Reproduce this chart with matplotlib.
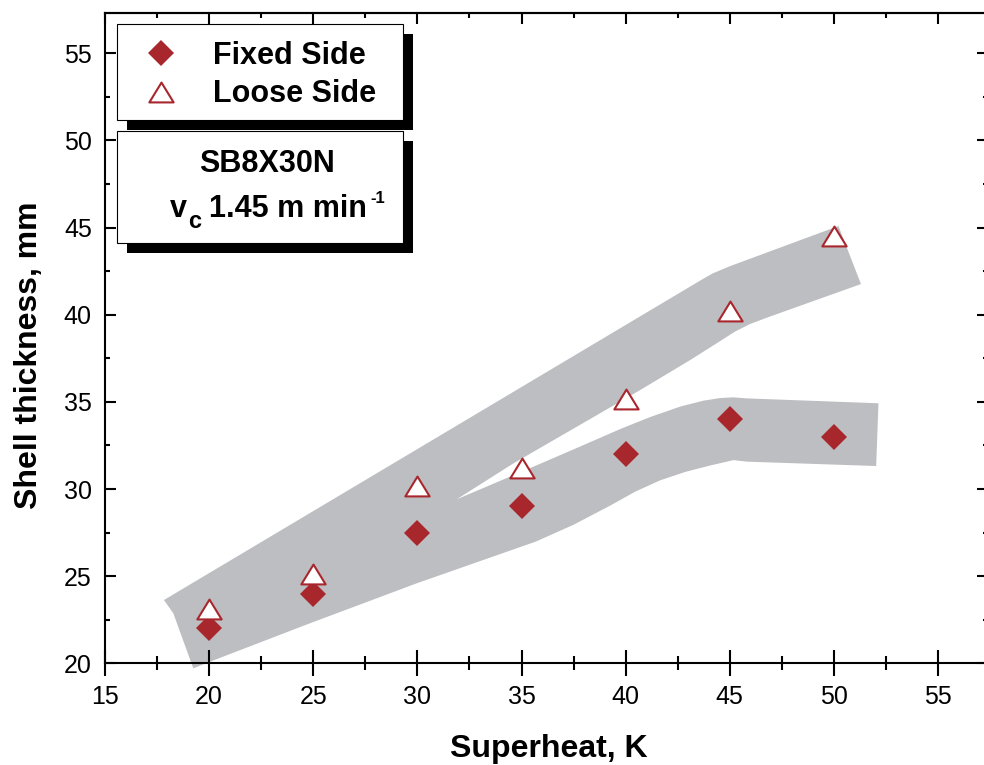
import matplotlib
matplotlib.use('Agg')
import matplotlib.pyplot as plt
from matplotlib.patches import Rectangle
from matplotlib.ticker import MultipleLocator
from matplotlib.path import Path

plt.rcParams['font.family'] = ['Liberation Sans', 'DejaVu Sans']

# ---- data ----
superheat = [20, 25, 30, 35, 40, 45, 50]
fixed_side = [22.0, 24.0, 27.5, 29.0, 32.0, 34.0, 33.0]
loose_side = [23.1, 25.1, 30.2, 31.2, 35.15, 40.2, 44.5]

# gray scatter band outline (superheat, thickness)
band_x = [17.83, 43.58, 44.16, 45.02, 50.22, 51.30, 46.94, 45.98, 45.26,
          44.54, 43.10, 40.70, 34.61, 31.89, 35.57, 37.82, 39.74, 41.18,
          42.62, 43.74, 44.54, 45.18, 45.82, 52.14, 52.03, 45.82, 45.18,
          44.06, 42.86, 41.66, 40.46, 39.26, 37.50, 35.70, 29.97,
          24.85, 20.04, 19.24, 18.28]
band_y = [23.63, 41.96, 42.36, 42.79, 45.09, 41.76, 39.90, 39.47, 39.04,
          38.49, 37.40, 35.68, 31.47, 29.41, 31.28, 32.44, 33.44, 34.13,
          34.73, 35.07, 35.22, 35.26, 35.20, 34.92, 31.32, 31.57, 31.66,
          31.35, 30.98, 30.50, 29.85, 29.05, 27.95, 26.99, 24.59,
          22.30, 20.09, 19.71, 22.87]

x_label = 'Superheat, K'
y_label = 'Shell thickness, mm'
series_labels = ['Fixed Side', 'Loose Side']
steel_grade = 'SB8X30N'
speed_symbol = 'v'
speed_sub = 'c'
speed_value = '1.45 m min'
speed_sup = '-1'

red = '#a8272d'
band_color = '#bdbec1'

fig = plt.figure(figsize=(9.84, 7.65), dpi=100)
ax = fig.add_axes([105 / 984, (765 - 663.3) / 765, 883 / 984, 650.6 / 765])

ax.fill(band_x, band_y, color=band_color, lw=0, clip_on=False, zorder=1)

tri = Path([(0, 0.49), (-0.6, -0.49), (0.6, -0.49), (0, 0.49)], closed=True)

ax.plot(superheat, fixed_side, ls='none', marker='D', ms=13.7, color=red,
        mew=0, label=series_labels[0], zorder=3, clip_on=False)
ax.plot(superheat, loose_side, ls='none', marker=tri, ms=17.5, mfc='white',
        mec=red, mew=1.5, label=series_labels[1], zorder=3, clip_on=False)

ax.set_xlim(15, 57.4)
ax.set_ylim(20, 57.33)

for a in (ax.xaxis, ax.yaxis):
    a.set_major_locator(MultipleLocator(5))
    a.set_minor_locator(MultipleLocator(2.5))

for s in ax.spines.values():
    s.set_linewidth(1.5)

ax.tick_params(axis='x', which='major', direction='inout', length=19.2,
               width=1.5, labelsize=18, pad=6, top=False)
ax.tick_params(axis='x', which='minor', direction='inout', length=9.6,
               width=1.5, top=False)
ax.tick_params(axis='y', which='major', direction='in', length=7.9,
               width=1.5, labelsize=18, pad=9.5, left=True, right=True)
ax.tick_params(axis='y', which='minor', direction='in', length=3.7,
               width=1.5, left=True, right=True)

sec = ax.secondary_xaxis('top')
sec.xaxis.set_major_locator(MultipleLocator(5))
sec.xaxis.set_minor_locator(MultipleLocator(2.5))
sec.tick_params(which='major', direction='in', length=7.7, width=1.5,
                labeltop=False)
sec.tick_params(which='minor', direction='in', length=3.4, width=1.5)
sec.spines['top'].set_linewidth(1.5)

ax.set_xlabel(x_label, fontsize=23, fontweight='bold')
ax.xaxis.label.set_verticalalignment('baseline')
ax.xaxis.set_label_coords(0.503, -0.1440)
ax.set_ylabel(y_label, fontsize=23, fontweight='bold')
ax.yaxis.label.set_verticalalignment('baseline')
ax.yaxis.set_label_coords(-0.0773, 0.4739)

# boxes with hard shadows
dx, dy = 10 / 883, -10 / 650.6
boxes = [(0.01325, 0.8351, 0.3245, 0.1471), (0.01325, 0.6465, 0.3245, 0.1717)]
for (bx, by, bw, bh) in boxes:
    ax.add_patch(Rectangle((bx + dx, by + dy), bw, bh, transform=ax.transAxes,
                           facecolor='black', edgecolor='none', zorder=4,
                           clip_on=False))
    ax.add_patch(Rectangle((bx, by), bw, bh, transform=ax.transAxes,
                           facecolor='white', edgecolor='black', lw=0.8,
                           zorder=4.5, clip_on=False))

leg = ax.legend(loc='center left', bbox_to_anchor=(0.034, 0.9043),
                frameon=False, prop={'weight': 'bold', 'size': 22},
                handlelength=1.7, handletextpad=0.84, labelspacing=0.28,
                borderpad=0, borderaxespad=0, numpoints=1)
leg.set_zorder(5)

tk = dict(transform=ax.transAxes, ha='left', va='baseline',
          fontweight='bold', zorder=6)
ax.text(0.1838, 0.7556, steel_grade, transform=ax.transAxes, ha='center',
        va='baseline', fontsize=22, fontweight='bold', zorder=6)
ax.text(0.0736, 0.6864, speed_symbol, fontsize=22, **tk)
ax.text(0.0945, 0.6685, speed_sub, fontsize=17, **tk)
ax.text(0.1175, 0.6864, speed_value, fontsize=22, **tk)
ax.text(0.3005, 0.7075, speed_sup, fontsize=12, **tk)

fig.savefig('out.png', dpi=100)
